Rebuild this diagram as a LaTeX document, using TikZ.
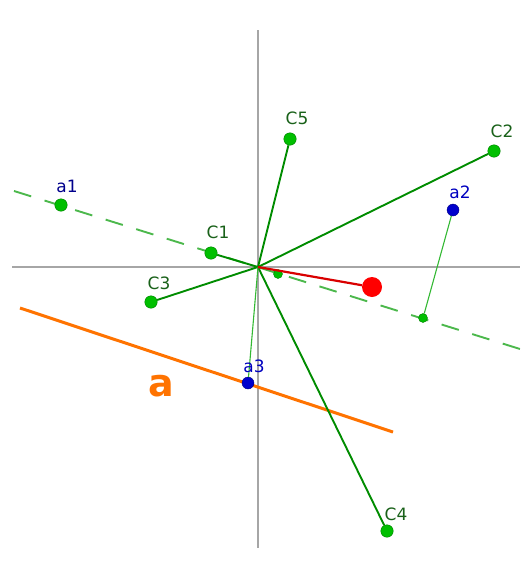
\documentclass[tikz,border=0pt]{standalone}
\usepackage{fontspec}
\setmainfont{DejaVu Sans}
\begin{document}
\begin{tikzpicture}[x=1pt,y=-1pt,
  axis/.style={draw=gray!70,line width=1.2pt},
  gline/.style={draw=green!55!black,line width=1.9pt},
  thinline/.style={draw=green!65!black!80,line width=1.1pt},
  dashline/.style={draw=green!60!black!70,line width=1.9pt,dash pattern=on 18pt off 14pt},
  gdot/.style={circle,fill=green!75!black,draw=green!50!black,line width=0.4pt,inner sep=0pt,minimum size=12.5pt},
  sdot/.style={circle,fill=green!75!black,draw=green!50!black,line width=0.4pt,inner sep=0pt,minimum size=9pt},
  bdot/.style={circle,fill=blue!80!black,draw=blue!50!black,line width=0.4pt,inner sep=0pt,minimum size=12pt},
  rdot/.style={circle,fill=red,inner sep=0pt,minimum size=20pt},
  glab/.style={text=green!35!black!80!gray,font=\fontsize{17}{17}\selectfont,inner sep=0pt},
  blab/.style={text=blue!75!black,font=\fontsize{17}{17}\selectfont,inner sep=0pt}]
\useasboundingbox (0,0) rectangle (523,565);
% axes
\coordinate (xl) at (12,267); \coordinate (xr) at (520,267);
\coordinate (yt) at (258,30); \coordinate (yb) at (258,548);
\draw[axis] (xl) -- (xr);
\draw[axis] (yt) -- (yb);
\coordinate (O) at (258,267);
% dashed line
\coordinate (dl) at (14,191); \coordinate (dr) at (520,349);
\draw[dashline] (dl) -- (dr);
% orange line a
\coordinate (al) at (20,308); \coordinate (ar) at (393,432);
\draw[draw=orange!90!red,line width=3pt] (al) -- (ar);
\node[text=orange!90!red,font=\bfseries\fontsize{38}{38}\selectfont,inner sep=0pt] (alab) at (161,386) {a};
% points
\node[gdot] (C1) at (211,253) {};
\node[gdot] (C2) at (494,151) {};
\node[gdot] (C3) at (151,302) {};
\node[gdot] (C4) at (387,531) {};
\node[gdot] (C5) at (290,139) {};
\node[gdot] (a1) at (61,205) {};
\node[bdot] (a2) at (453,210) {};
\node[sdot] (f2) at (423,318) {};
\node[sdot] (f0) at (278,274) {};
\node[bdot] (a3) at (248,383) {};
% lines
\draw[gline] (O) -- (C1);
\draw[gline] (O) -- (C2);
\draw[gline] (O) -- (C3);
\draw[gline] (O) -- (C4);
\draw[gline] (O) -- (C5);
\draw[thinline] (a2) -- (f2);
\draw[thinline] (O) -- (a3);
\node[rdot] (R) at (372,287) {};
\draw[draw=red!85!black,line width=2.2pt] (O) -- (R);
% labels
\node[glab] (lC1) at (218,232) {C1};
\node[glab] (lC2) at (502,131) {C2};
\node[glab] (lC3) at (159,283) {C3};
\node[glab] (lC4) at (396,514) {C4};
\node[glab] (lC5) at (297,118) {C5};
\node[blab,text=blue!55!black] (la1) at (67,186) {a1};
\node[blab] (la2) at (460,192) {a2};
\node[blab] (la3) at (254,366) {a3};
\end{tikzpicture}
\end{document}
